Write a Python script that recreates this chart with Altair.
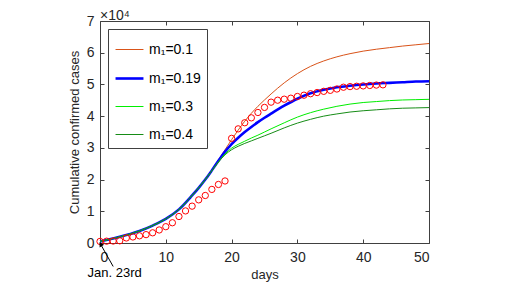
import altair as alt
import pandas as pd

FONT = "Liberation Sans"
INK = "#262626"
BOX = "#404040"

# observed cumulative confirmed cases (x 10^4), day 0 = Jan. 23rd
days_obs = list(range(0, 44))
cases_obs = [0.0495, 0.0572, 0.0618, 0.0698, 0.1590, 0.1905, 0.2261, 0.2639, 0.3215, 0.4109,
             0.5142, 0.6384, 0.8351, 1.0117, 1.1618, 1.3603, 1.4982, 1.6902, 1.8454, 1.9558,
             3.2994, 3.5991, 3.7914, 3.9462, 4.1152, 4.2752, 4.4412, 4.5027, 4.5346, 4.5660,
             4.6201, 4.6607, 4.7071, 4.7441, 4.7824, 4.8137, 4.8557, 4.9122, 4.9315, 4.9426,
             4.9540, 4.9671, 4.9797, 4.9871]

# model curves (x 10^4)
days_model = [0, 2, 4, 6, 8, 10, 12,
              14, 15, 16, 17, 18, 19, 20, 21, 22, 23, 24, 25, 26,
              28, 30, 32, 34, 36, 38, 40, 42, 44, 46, 48, 50]
m_01 = [0.05, 0.14, 0.25, 0.38, 0.55, 0.76, 1.06,
        1.50, 1.74, 2.00, 2.30, 2.62, 2.94, 3.26, 3.56, 3.84, 4.09, 4.31, 4.51, 4.70,
        5.05, 5.34, 5.57, 5.74, 5.87, 5.97, 6.05, 6.11, 6.16, 6.21, 6.25, 6.29]
m_019 = [0.05, 0.14, 0.25, 0.38, 0.55, 0.76, 1.06,
         1.50, 1.74, 2.00, 2.29, 2.59, 2.88, 3.12, 3.32, 3.50, 3.66, 3.81, 3.95, 4.08,
         4.33, 4.55, 4.72, 4.83, 4.91, 4.96, 5.00, 5.03, 5.05, 5.07, 5.09, 5.10]
m_03 = [0.05, 0.14, 0.25, 0.38, 0.55, 0.76, 1.06,
        1.50, 1.74, 2.00, 2.28, 2.56, 2.81, 2.99, 3.11, 3.21, 3.31, 3.40, 3.50, 3.60,
        3.79, 3.97, 4.11, 4.22, 4.31, 4.38, 4.43, 4.46, 4.49, 4.51, 4.52, 4.53]
m_04 = [0.05, 0.14, 0.25, 0.38, 0.55, 0.76, 1.06,
        1.50, 1.74, 2.00, 2.28, 2.55, 2.78, 2.94, 3.05, 3.14, 3.22, 3.30, 3.38, 3.46,
        3.63, 3.78, 3.90, 4.00, 4.07, 4.13, 4.17, 4.20, 4.23, 4.25, 4.26, 4.27]

series_labels = ["m₁=0.1", "m₁=0.19", "m₁=0.3", "m₁=0.4"]
series_colors = ["#D95319", "#0000FF", "#00EE00", "#168C16"]
series_widths = [1.0, 2.6, 1.0, 1.0]
series_values = [m_01, m_019, m_03, m_04]

x_ticks = [0, 10, 20, 30, 40, 50]
y_ticks = [0, 1, 2, 3, 4, 5, 6, 7]

exponent_text = ["×10⁴"]
note_text = ["Jan. 23rd"]
note_day = [-1.9]
note_value = [-0.95]
arrow_tail = [2.0, -0.74]
arrow_head = [0.1, -0.04]

rows = []
for lab, vals in zip(series_labels, series_values):
    for d, v in zip(days_model, vals):
        rows.append({"day": d, "value": v, "series": lab})
model_df = pd.DataFrame(rows)
obs_df = pd.DataFrame({"day": days_obs, "value": cases_obs})
note_df = pd.DataFrame({"day": note_day, "value": note_value, "text": note_text})
arrow_df = pd.DataFrame({"day": [arrow_tail[0]], "value": [arrow_tail[1]],
                         "day2": [arrow_head[0]], "value2": [arrow_head[1]]})
head_df = pd.DataFrame({"day": [arrow_head[0]], "value": [arrow_head[1]]})
exp_df = pd.DataFrame({"text": exponent_text})

W, H = 329, 222


def xs():
    return alt.Scale(domain=[0, 50], nice=False, zero=False)


def ys():
    return alt.Scale(domain=[0, 7], nice=False, zero=False)


def tick_axis(orient, offset, values):
    return alt.Axis(orient=orient, offset=offset, values=values, labels=False, domain=False,
                    grid=False, ticks=True, tickSize=4, tickWidth=1, tickColor=BOX, title=None)


legend = alt.Legend(title=None, orient="top-left", offset=8, padding=6, rowPadding=6,
                    strokeColor=BOX, fillColor="white", symbolType="stroke", symbolSize=780,
                    labelFontSize=14, labelFont=FONT, labelColor="black", labelOffset=4)

lines = alt.Chart(model_df).mark_line(interpolate="monotone").encode(
    x=alt.X("day:Q", scale=xs(),
            axis=alt.Axis(orient="bottom", values=x_ticks, ticks=False, domain=False, grid=False,
                          title="days", labelFontSize=14, titleFontSize=13,
                          titleFontWeight="normal", labelPadding=7, titlePadding=4,
                          labelColor=INK, titleColor=INK, labelFont=FONT, titleFont=FONT)),
    y=alt.Y("value:Q", scale=ys(),
            axis=alt.Axis(orient="left", values=y_ticks, ticks=False, domain=False, grid=False,
                          title="Cumulative confirmed cases", labelFontSize=14, titleFontSize=13,
                          titleFontWeight="normal", labelPadding=6, titlePadding=5,
                          labelColor=INK, titleColor=INK, labelFont=FONT, titleFont=FONT)),
    color=alt.Color("series:N", scale=alt.Scale(domain=series_labels, range=series_colors),
                    legend=legend),
    strokeWidth=alt.StrokeWidth("series:N",
                                scale=alt.Scale(type="ordinal", domain=series_labels,
                                                range=series_widths),
                                legend=legend),
)

points = alt.Chart(obs_df).mark_point(shape="circle", filled=False, color="#FF0000",
                                      size=40, strokeWidth=1, opacity=1).encode(
    x=alt.X("day:Q", scale=xs(), axis=tick_axis("top", -H, x_ticks)),
    y=alt.Y("value:Q", scale=ys(), axis=tick_axis("right", -W, y_ticks)),
)

note = alt.Chart(note_df).mark_text(align="left", baseline="middle", fontSize=13, font=FONT,
                                    color="black").encode(
    x=alt.X("day:Q", scale=xs(), axis=tick_axis("bottom", -H, x_ticks)),
    y=alt.Y("value:Q", scale=ys(), axis=tick_axis("left", -W, y_ticks)),
    text="text:N",
)

arrow = alt.Chart(arrow_df).mark_rule(color="black", strokeWidth=1).encode(
    x=alt.X("day:Q", scale=xs(), axis=None),
    y=alt.Y("value:Q", scale=ys(), axis=None),
    x2="day2:Q",
    y2="value2:Q",
)

head = alt.Chart(head_df).mark_point(shape="triangle-up", filled=True, color="black",
                                     size=28, angle=328, opacity=1).encode(
    x=alt.X("day:Q", scale=xs(), axis=None),
    y=alt.Y("value:Q", scale=ys(), axis=None),
)

exponent = alt.Chart(exp_df).mark_text(align="left", baseline="alphabetic", fontSize=14,
                                       font=FONT, color=INK).encode(
    x=alt.value(0), y=alt.value(-1.5), text="text:N",
)

chart = alt.layer(lines, points, note, arrow, head, exponent).resolve_scale(
    x="independent", y="independent"
).resolve_axis(
    x="independent", y="independent"
).properties(
    width=W, height=H,
    autosize=alt.AutoSizeParams(type="none"),
    padding={"left": 92, "top": 13, "right": 70, "bottom": 40},
).configure_view(stroke=BOX, strokeWidth=1)

chart.save("out.html", embed_options={"renderer": "svg", "actions": False})
